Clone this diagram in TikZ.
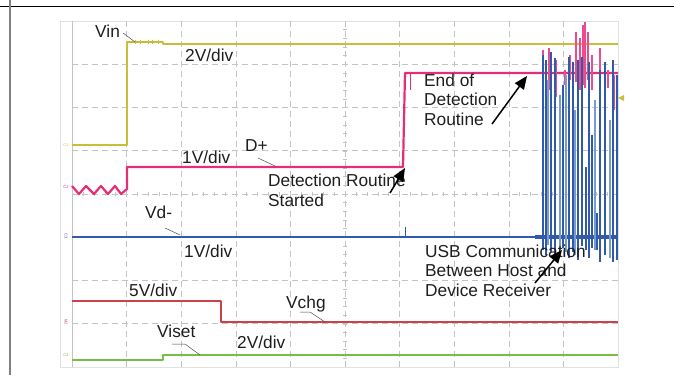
\documentclass[tikz,border=0pt]{standalone}
\usepackage{fontspec}
\setmainfont{Liberation Sans}
\usetikzlibrary{arrows.meta}
\definecolor{ycol}{RGB}{200,190,55}
\definecolor{pcol}{RGB}{230,45,120}
\definecolor{bcol}{RGB}{50,90,170}
\definecolor{lbcol}{RGB}{120,155,210}
\definecolor{rcol}{RGB}{205,65,75}
\definecolor{gcol}{RGB}{120,190,70}
\definecolor{txt}{RGB}{30,30,30}
\definecolor{gridc}{RGB}{195,195,195}
\tikzset{
  lbl/.style={anchor=base west,inner sep=0pt,text=txt,font=\fontsize{17.3}{19.5}\selectfont},
  mlbl/.style={anchor=base west,inner sep=0pt,text=txt,align=left,font=\fontsize{17.3}{19.5}\selectfont},
  tiny/.style={inner sep=0pt,font=\fontsize{4}{4}\selectfont},
  leader/.style={draw=txt!80,line width=0.5pt},
  arr/.style={draw=black,line width=1.5pt,-{Triangle[length=13pt,width=11pt]}},
  gridl/.style={draw=gridc,line width=0.6pt,dash pattern=on 6pt off 4pt},
  trace/.style={line width=2.2pt,line join=round}
}
\begin{document}
\begin{tikzpicture}[x=1pt,y=-1pt]
\useasboundingbox (0,0) rectangle (674,377);
% frame
\draw[black,line width=1pt] (0,6.5) -- (674,6.5);
\draw[gray,line width=2pt] (10,0) -- (10,375);
% grid
\draw[draw=gridc!50,line width=0.6pt] (60,21) rectangle (618,367);
\foreach \k in {1,...,9} {\draw[gridl] ({72+54.6*\k},21) -- ({72+54.6*\k},367);}
\foreach \k in {1,...,7} {\draw[gridl] (72,{21+43.25*\k}) -- (618,{21+43.25*\k});}
\draw[draw=gridc,line width=0.6pt] (72,21) -- (72,367);
\foreach \k in {1,...,39} {\draw[gridc,line width=0.5pt] (343,{21+8.65*\k}) -- (347,{21+8.65*\k});}
\foreach \k in {1,...,49} {\draw[gridc,line width=0.5pt] ({72+10.92*\k},192) -- ({72+10.92*\k},196);}
% channel labels
\node[tiny,text=ycol] (c1) at (66,145) {C1};
\node[tiny,text=pcol] (c2) at (66,187) {C2};
\node[tiny,text=bcol,rotate=-90] (c3) at (66,236) {C3};
\node[tiny,text=rcol,rotate=-90] (c5) at (66,322) {M2};
\node[tiny,text=gcol] (c4) at (66,355) {C4};
% yellow Vin
\draw[trace,ycol] (72,145) -- (127,145) -- (127,42) -- (163,42) -- (163,44) -- (618,44);
\foreach \x in {135,140,148,152,158} {\draw[ycol,line width=0.8pt] (\x,40) -- (\x,44);}
\fill[ycol] (618,98) -- (624,95) -- (624,101) -- cycle;
% green Viset
\draw[trace,gcol,line width=2.6pt] (72,360) -- (163,360) -- (163,355) -- (618,355);
% red Vchg
\draw[trace,rcol,line width=1.8pt] (72,301) -- (221,301) -- (221,322) -- (618,322);
% pink D+
\draw[trace,pcol] (72,186) -- (79,194) -- (86,186) -- (94,194) -- (101,186) -- (108,194) -- (115,186) -- (121,194) -- (127,189) -- (127,167) -- (403,167) -- (405,73) -- (618,73);
\draw[pcol,line width=1pt] (410,73) -- (410,90);
\foreach \x/\t/\b in {543/50/85,549/48/90,556/60/97,565/70/85,570/55/80,576/32/82,580/38/90,583/25/85,585/22/88,588/32/80,592/55/90,600/48/80,608/70/88,614/75/110}
  {\draw[pcol!85,line width=1.2pt] (\x,\t) -- (\x,\b);}
% blue Vd-
\draw[trace,bcol] (72,237) -- (618,237);
\draw[bcol,line width=1pt] (405,237) -- (405,227);
\draw[bcol,line width=3.5pt] (535,237) -- (618,237);
\foreach \x/\t/\b in {548/80/245,560/95/250,575/110/255,595/100/250,610/120/258,566/75/252}
  {\draw[lbcol,line width=1.5pt] (\x,\t) -- (\x,\b);}
\foreach \x/\t/\b in {543/55/250,546/60/255,551/52/252,555/58/258,563/85/248,569/57/258,573/62/252,578/60/260,582/57/246,586/167/250,589/62/258,592/135/248,597/213/250,600/70/262,605/62/255,613/60/262,617/75/260}
  {\draw[bcol,line width=1.6pt] (\x,\t) -- (\x,\b);}
% labels
\node[lbl] (vin) at (95,38) {Vin};
\node[lbl] (y2v) at (185,62) {2V/div};
\node[lbl] (dp) at (245,151) {D+};
\node[lbl] (p1v) at (182,163) {1V/div};
\node[mlbl] (det) at (268,206) {Detection Routine\\Started};
\node[mlbl] (eod) at (424,125) {End of\\Detection\\Routine};
\node[lbl] (vd) at (145,218) {Vd-};
\node[lbl] (b1v) at (184,257) {1V/div};
\node[lbl] (r5v) at (129,296) {5V/div};
\node[lbl] (vchg) at (286,308) {Vchg};
\node[lbl] (viset) at (157,337) {Viset};
\node[lbl] (g2v) at (237,348) {2V/div};
\node[mlbl] (usb) at (425,296) {USB Communication\\Between Host and\\Device Receiver};
% leaders
\coordinate (lv1) at (123,33); \coordinate (lv2) at (135,42);
\draw[leader] (lv1) -- (lv2);
\coordinate (ld1) at (258,158); \coordinate (ld2) at (275,166);
\draw[leader] (ld1) -- (ld2);
\coordinate (lb1) at (165,228); \coordinate (lb2) at (180,235);
\draw[leader] (lb1) -- (lb2);
\coordinate (lc1) at (300,312); \coordinate (lc2) at (310,312); \coordinate (lc3) at (325,322);
\draw[leader] (lc1) -- (lc2) -- (lc3);
\coordinate (lg1) at (172,344); \coordinate (lg2) at (185,344); \coordinate (lg3) at (200,355);
\draw[leader] (lg1) -- (lg2) -- (lg3);
% arrows
\coordinate (a1t) at (390,193); \coordinate (a1h) at (405,168);
\draw[arr] (a1t) -- (a1h);
\coordinate (a2t) at (492,124); \coordinate (a2h) at (527,76);
\draw[arr] (a2t) -- (a2h);
\coordinate (a3t) at (535,283); \coordinate (a3h) at (562,250);
\draw[arr] (a3t) -- (a3h);
\end{tikzpicture}
\end{document}
